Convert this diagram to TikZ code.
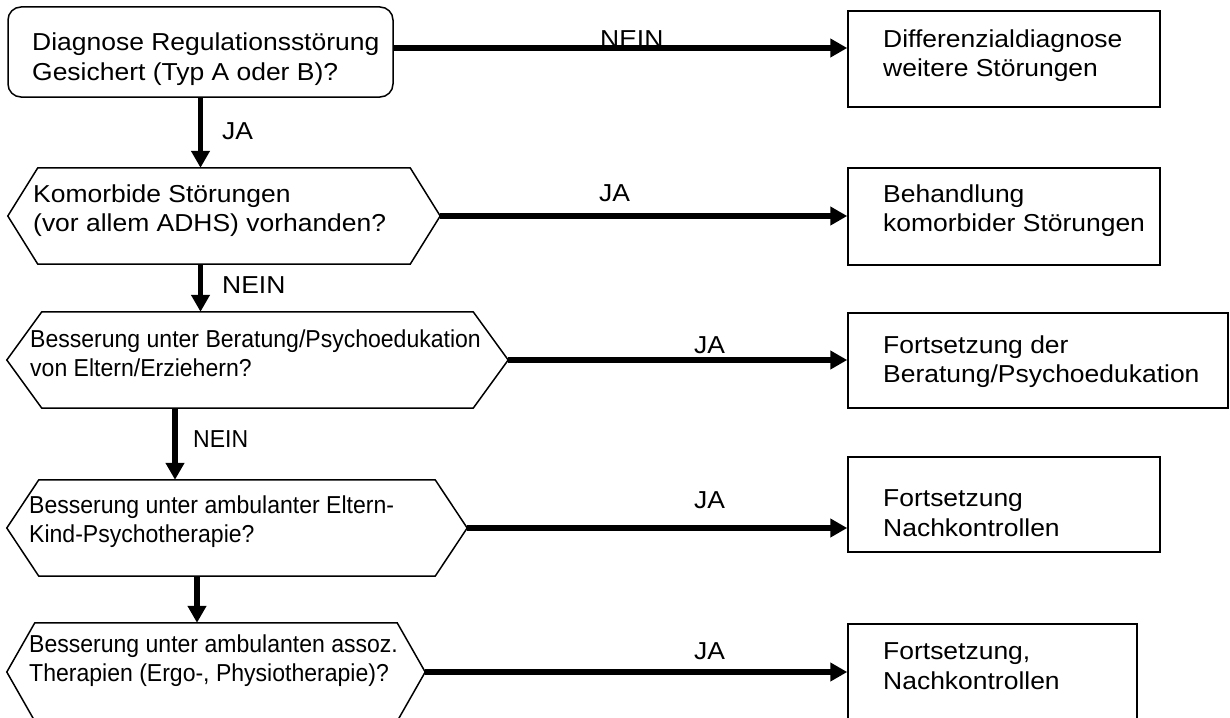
\documentclass[tikz,border=0pt]{standalone}
\usepackage{fontspec}
\setmainfont{Liberation Sans}[FakeStretch=1.08]
\newfontfamily\narrowfont{Liberation Sans}[FakeStretch=0.94]
\usetikzlibrary{arrows.meta}
\tikzstyle{frame} = [draw, line width=1.5pt, inner sep=0pt]
\tikzstyle{hexbox} = [inner sep=0pt]
\tikzstyle{hexline} = [line width=1.5pt, line join=miter]
\tikzstyle{txt} = [align=left, inner sep=0pt, anchor=north west, font=\fontsize{24.5}{29.5}\selectfont]
\tikzstyle{ntxt} = [txt, font=\narrowfont\fontsize{24.5}{29.5}\selectfont]
\tikzstyle{lab} = [inner sep=0pt, anchor=base west, font=\fontsize{24.5}{29.5}\selectfont]
\tikzstyle{nlab} = [lab, font=\narrowfont\fontsize{24.5}{29.5}\selectfont]
\tikzstyle{arr} = [line width=5.5pt, -{Triangle[length=17pt,width=18pt]}]

\begin{document}
\begin{tikzpicture}[x=1pt, y=-1pt]
  \fill[white] (0,0) rectangle (1230,717);
  \useasboundingbox (0,0) rectangle (1230,717);

  % left column: question boxes
  \node [frame, rounded corners=13pt, minimum width=385pt, minimum height=90pt] (diag) at (200.5,52) {};
  \node [hexbox, minimum width=432pt, minimum height=96pt] (q1) at (224,216) {};
  \node [hexbox, minimum width=501pt, minimum height=96pt] (q2) at (257.5,360) {};
  \node [hexbox, minimum width=460pt, minimum height=96pt] (q3) at (237,528) {};
  \node [hexbox, minimum width=418pt, minimum height=98pt] (q4) at (216,672) {};
  \draw [hexline] (q1.west) -- ([xshift=30pt]q1.north west) -- ([xshift=-30pt]q1.north east) -- (q1.east)
    -- ([xshift=-30pt]q1.south east) -- ([xshift=30pt]q1.south west) -- cycle;
  \draw [hexline] (q2.west) -- ([xshift=35pt]q2.north west) -- ([xshift=-35pt]q2.north east) -- (q2.east)
    -- ([xshift=-35pt]q2.south east) -- ([xshift=35pt]q2.south west) -- cycle;
  \draw [hexline] (q3.west) -- ([xshift=32pt]q3.north west) -- ([xshift=-32pt]q3.north east) -- (q3.east)
    -- ([xshift=-32pt]q3.south east) -- ([xshift=32pt]q3.south west) -- cycle;
  \draw [hexline] (q4.west) -- ([xshift=28pt]q4.north west) -- ([xshift=-28pt]q4.north east) -- (q4.east)
    -- ([xshift=-28pt]q4.south east) -- ([xshift=28pt]q4.south west) -- cycle;

  % right column: outcome boxes
  \node [frame, minimum width=312pt, minimum height=96pt] (diff) at (1004,59) {};
  \node [frame, minimum width=312pt, minimum height=97pt] (behand) at (1004,216.5) {};
  \node [frame, minimum width=380pt, minimum height=95pt] (fort1) at (1038,360.5) {};
  \node [frame, minimum width=312pt, minimum height=95pt] (fort2) at (1004,504.5) {};
  \node [frame, minimum width=289pt, minimum height=96pt] (fort3) at (992.5,672) {};

  % texts
  \node [txt] (tdiag) at (32,33) {Diagnose Regulationsstörung\\Gesichert (Typ A oder B)?};
  \node [txt] (tq1) at (33,184.5) {Komorbide Störungen\\(vor allem ADHS) vorhanden?};
  \node [ntxt] (tq2) at (30,329.5) {Besserung unter Beratung/Psychoedukation\\von Eltern/Erziehern?};
  \node [ntxt] (tq3) at (29,495.5) {Besserung unter ambulanter Eltern-\\Kind-Psychotherapie?};
  \node [ntxt] (tq4) at (29,634.5) {Besserung unter ambulanten assoz.\\Therapien (Ergo-, Physiotherapie)?};
  \node [txt] (tdiff) at (883,29.5) {Differenzialdiagnose\\weitere Störungen};
  \node [txt] (tbehand) at (883,184.5) {Behandlung\\komorbider Störungen};
  \node [txt] (tfort1) at (883,335.5) {Fortsetzung der\\Beratung/Psychoedukation};
  \node [txt] (tfort2) at (883,489.5) {Fortsetzung\\Nachkontrollen};
  \node [txt] (tfort3) at (883,642.5) {Fortsetzung,\\Nachkontrollen};

  % connectors
  \coordinate (e0) at ([yshift=4pt]diag.east);
  \coordinate (d2) at ([xshift=-82.5pt]q2.south);
  \coordinate (d3) at ([xshift=-40pt]q3.south);
  \draw [arr] (e0) -- (e0 -| diff.west);
  \draw [arr] (diag.south) -- (diag.south |- q1.north);
  \draw [arr] (q1.east) -- (q1.east -| behand.west);
  \draw [arr] (q1.south -| diag.south) -- (q2.north -| diag.south);
  \draw [arr] (q2.east) -- (q2.east -| fort1.west);
  \draw [arr] (d2) -- (d2 |- q3.north);
  \draw [arr] (q3.east) -- (q3.east -| fort2.west);
  \draw [arr] (d3) -- (d3 |- q4.north);
  \draw [arr] (q4.east) -- (q4.east -| fort3.west);

  % labels
  \node [lab] (l0) at (600,48) {NEIN};
  \node [lab] (l1) at (222,139) {JA};
  \node [lab] (l2) at (599,201) {JA};
  \node [lab] (l3) at (222,293) {NEIN};
  \node [lab] (l4) at (694,353) {JA};
  \node [nlab] (l5) at (193,447) {NEIN};
  \node [lab] (l6) at (694,508) {JA};
  \node [lab] (l7) at (694,659) {JA};
\end{tikzpicture}
\end{document}
